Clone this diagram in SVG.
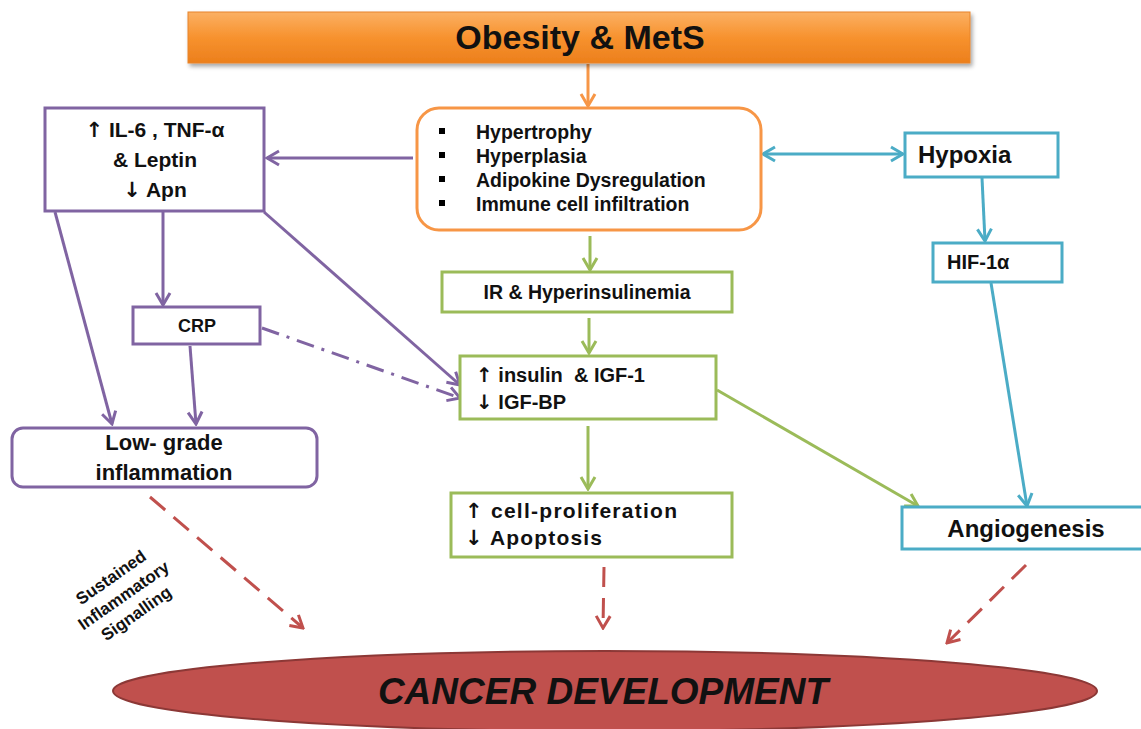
<svg xmlns="http://www.w3.org/2000/svg" width="1141" height="729" viewBox="0 0 1141 729">
<style>
  text { font-family: "Liberation Sans", Arial, sans-serif; font-weight: bold; fill: #111; }
  .ar { font-family: "DejaVu Sans", sans-serif; font-weight: bold; fill: #111; }
  .box { fill: #fff; stroke-width: 3; }
  .pur { stroke: #8064A2; }
  .grn { stroke: #9BBB59; }
  .blu { stroke: #4BACC6; }
  .org { stroke: #F79646; }
  .c { fill: none; stroke-width: 3; }
  .red { stroke: #C0504D; stroke-dasharray: 20 11; }
</style>
<defs>
  <linearGradient id="og" x1="0" y1="0" x2="0" y2="1">
    <stop offset="0" stop-color="#FBB063"/>
    <stop offset="0.5" stop-color="#F7922E"/>
    <stop offset="1" stop-color="#EC7F1C"/>
  </linearGradient>
  <filter id="sh" x="-5%" y="-20%" width="110%" height="150%">
    <feDropShadow dx="2" dy="3" stdDeviation="2" flood-color="#000" flood-opacity="0.35"/>
  </filter>
  <marker id="aP" viewBox="0 0 20 20" refX="18" refY="10" markerWidth="20" markerHeight="20" markerUnits="userSpaceOnUse" orient="auto-start-reverse">
    <path d="M6,3 L18,10 L6,17" fill="none" stroke="#8064A2" stroke-width="3"/>
  </marker>
  <marker id="aG" viewBox="0 0 20 20" refX="18" refY="10" markerWidth="20" markerHeight="20" markerUnits="userSpaceOnUse" orient="auto-start-reverse">
    <path d="M6,3 L18,10 L6,17" fill="none" stroke="#9BBB59" stroke-width="3"/>
  </marker>
  <marker id="aB" viewBox="0 0 20 20" refX="18" refY="10" markerWidth="20" markerHeight="20" markerUnits="userSpaceOnUse" orient="auto-start-reverse">
    <path d="M6,3 L18,10 L6,17" fill="none" stroke="#4BACC6" stroke-width="3"/>
  </marker>
  <marker id="aO" viewBox="0 0 20 20" refX="18" refY="10" markerWidth="20" markerHeight="20" markerUnits="userSpaceOnUse" orient="auto-start-reverse">
    <path d="M6,3 L18,10 L6,17" fill="none" stroke="#F79646" stroke-width="3"/>
  </marker>
  <marker id="aR" viewBox="0 0 20 20" refX="18" refY="10" markerWidth="20" markerHeight="20" markerUnits="userSpaceOnUse" orient="auto-start-reverse">
    <path d="M6,3 L18,10 L6,17" fill="none" stroke="#C0504D" stroke-width="3"/>
  </marker>
</defs>

<g id="connectors">
  <line class="c org" x1="588" y1="64" x2="588" y2="106" marker-end="url(#aO)"/>
  <line class="c pur" x1="413" y1="158" x2="267" y2="158" marker-end="url(#aP)"/>
  <line class="c blu" x1="763" y1="154" x2="903" y2="154" marker-start="url(#aB)" marker-end="url(#aB)"/>
  <line class="c grn" x1="590" y1="236" x2="590" y2="270" marker-end="url(#aG)"/>
  <line class="c grn" x1="589" y1="318" x2="589" y2="353" marker-end="url(#aG)"/>
  <line class="c grn" x1="588" y1="426" x2="588" y2="489" marker-end="url(#aG)"/>
  <line class="c grn" x1="717" y1="390" x2="918" y2="506" marker-end="url(#aG)"/>
  <line class="c blu" x1="982" y1="178" x2="985" y2="241" marker-end="url(#aB)"/>
  <line class="c blu" x1="991" y1="283" x2="1027" y2="506" marker-end="url(#aB)"/>
  <line class="c pur" x1="163" y1="212" x2="163" y2="305" marker-end="url(#aP)"/>
  <line class="c pur" x1="55" y1="212" x2="112" y2="424" marker-end="url(#aP)"/>
  <line class="c pur" x1="190" y1="346" x2="196" y2="424" marker-end="url(#aP)"/>
  <line class="c pur" x1="264" y1="212" x2="460" y2="385" marker-end="url(#aP)"/>
  <line class="c pur" x1="262" y1="328" x2="460" y2="398" stroke-dasharray="18 8 3 8" marker-end="url(#aP)"/>
  <line class="c red" x1="150" y1="497" x2="303" y2="628" marker-end="url(#aR)"/>
  <line class="c red" x1="604" y1="567" x2="603" y2="628" marker-end="url(#aR)"/>
  <line class="c red" x1="1026" y1="565" x2="947" y2="643" marker-end="url(#aR)"/>
</g>

<g id="obesity">
  <rect x="188" y="12" width="782" height="51" fill="url(#og)" stroke="#E8842A" stroke-width="1" filter="url(#sh)"/>
  <text x="580" y="49" font-size="34" text-anchor="middle">Obesity &amp; MetS</text>
</g>

<g id="adipose">
  <rect class="box org" x="417" y="108" width="344" height="122" rx="22"/>
  <rect x="439" y="128" width="6" height="6" fill="#000"/>
  <rect x="439" y="152" width="6" height="6" fill="#000"/>
  <rect x="439" y="176" width="6" height="6" fill="#000"/>
  <rect x="439" y="200" width="6" height="6" fill="#000"/>
  <text x="476" y="139" font-size="19.5">Hypertrophy</text>
  <text x="476" y="163" font-size="19.5">Hyperplasia</text>
  <text x="476" y="187" font-size="19.5">Adipokine Dysregulation</text>
  <text x="476" y="211" font-size="19.5">Immune cell infiltration</text>
</g>

<g id="cytokines">
  <rect class="box pur" x="45" y="108" width="219" height="103"/>
  <text x="155" y="137" font-size="21" text-anchor="middle"><tspan class="ar">↑</tspan> IL-6 , TNF-α</text>
  <text x="155" y="167" font-size="21" text-anchor="middle">&amp; Leptin</text>
  <text x="155" y="197" font-size="21" text-anchor="middle"><tspan class="ar">↓</tspan> Apn</text>
</g>

<g id="crp">
  <rect class="box pur" x="133" y="307" width="127" height="37"/>
  <text x="197" y="332" font-size="18" text-anchor="middle">CRP</text>
</g>

<g id="inflammation">
  <rect class="box pur" x="12" y="428" width="305" height="59" rx="11"/>
  <text x="164" y="450" font-size="22" text-anchor="middle">Low- grade</text>
  <text x="164" y="480" font-size="22" text-anchor="middle">inflammation</text>
</g>

<g id="ir">
  <rect class="box grn" x="442" y="272" width="290" height="40"/>
  <text x="587" y="299" font-size="19.5" text-anchor="middle">IR &amp; Hyperinsulinemia</text>
</g>

<g id="insulin">
  <rect class="box grn" x="460" y="356" width="256" height="63"/>
  <text x="476" y="382" font-size="20" xml:space="preserve"><tspan class="ar">↑</tspan> insulin  &amp; IGF-1</text>
  <text x="476" y="409" font-size="20"><tspan class="ar">↓</tspan> IGF-BP</text>
</g>

<g id="proliferation">
  <rect class="box grn" x="451" y="493" width="281" height="64"/>
  <text x="465" y="518" font-size="21" textLength="212" lengthAdjust="spacing"><tspan class="ar">↑</tspan> cell-proliferation</text>
  <text x="465" y="545" font-size="21" textLength="137" lengthAdjust="spacing"><tspan class="ar">↓</tspan> Apoptosis</text>
</g>

<g id="hypoxia">
  <rect class="box blu" x="905" y="133" width="153" height="44"/>
  <text x="918" y="163" font-size="24">Hypoxia</text>
</g>

<g id="hif">
  <rect class="box blu" x="933" y="243" width="129" height="39"/>
  <text x="947" y="269" font-size="20">HIF-1α</text>
</g>

<g id="angiogenesis">
  <rect class="box blu" x="902" y="507" width="245" height="42"/>
  <text x="1026" y="537" font-size="24" text-anchor="middle">Angiogenesis</text>
</g>

<g id="label-signalling" transform="translate(124,596) rotate(-35)">
  <text x="0" y="-17" font-size="17" text-anchor="middle">Sustained</text>
  <text x="0" y="5" font-size="17" text-anchor="middle">Inflammatory</text>
  <text x="0" y="27" font-size="17" text-anchor="middle">Signalling</text>
</g>

<g id="cancer">
  <ellipse cx="605" cy="691" rx="492" ry="40" fill="#C0504D" stroke="#8C3836" stroke-width="2"/>
  <text x="603" y="704" font-size="37" font-style="italic" text-anchor="middle">CANCER DEVELOPMENT</text>
</g>
</svg>
